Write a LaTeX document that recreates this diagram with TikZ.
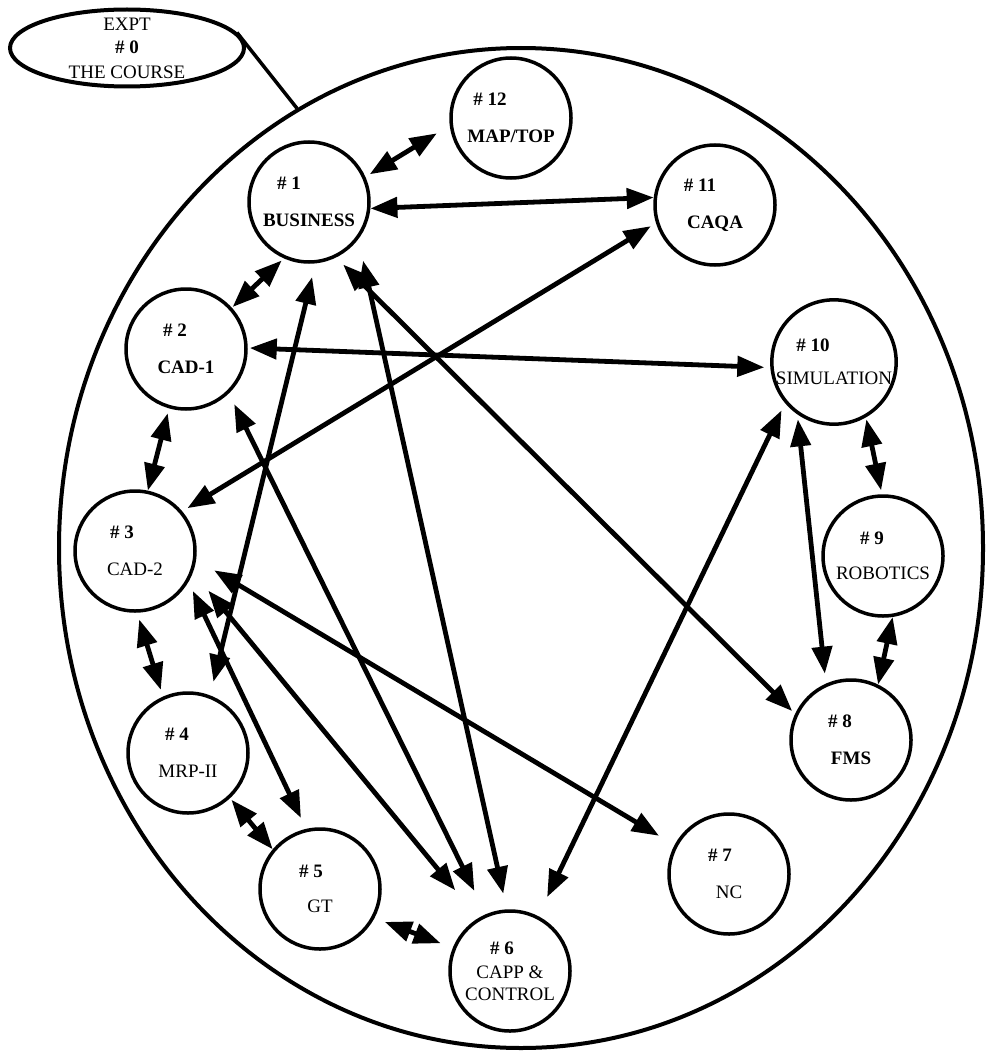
\documentclass[tikz,border=0pt]{standalone}
\usepackage{fontspec}
\setmainfont{Liberation Serif}
\usetikzlibrary{arrows.meta,shapes.geometric}

\begin{document}
\begin{tikzpicture}[
    x=1pt, y=-1pt,
    % Estilo de cada etapa del curso (círculos numerados)
    etapa/.style={circle, draw=black, line width=3.5pt, minimum size=120pt, inner sep=0pt, align=center, font=\fontsize{19}{22}\selectfont},
    % Contornos elípticos (curso completo y experimento cero)
    contorno/.style={ellipse, draw=black, line width=4pt, inner sep=0pt},
    texto/.style={align=center, font=\fontsize{19}{23}\selectfont},
    % Flechas dobles entre etapas
    flecha/.style={<->, >={Triangle[length=27pt, width=20pt]}, line width=4.8pt},
    enlace/.style={line width=3.5pt}
]
    \useasboundingbox (0,0) rectangle (985,1054);

    % --- CONTORNOS ---
    \node[contorno, minimum width=234pt, minimum height=77pt] (expt) at (127,48) {};
    \node[contorno, minimum width=924pt, minimum height=1000pt] (curso) at (521,548) {};
    \node[texto] (expttxt) at (expt.center) {EXPT\\\textbf{\# 0}\\[2pt]THE COURSE};
    \draw[enlace] (expt.8) -- (curso.117);

    % --- ETAPAS (posiciones sobre la página) ---
    \node[etapa] (map)  at (511,118) {\textbf{\# 12}\hspace*{42pt}\\[15pt]\textbf{MAP/TOP}};
    \node[etapa] (biz)  at (309,202) {\textbf{\# 1}\hspace*{40pt}\\[15pt]\textbf{BUSINESS}};
    \node[etapa] (caqa) at (715,205) {\textbf{\# 11}\hspace*{30pt}\\[15pt]\textbf{CAQA}};
    \node[etapa] (cad1) at (186,349) {\textbf{\# 2}\hspace*{22pt}\\[15pt]\textbf{CAD-1}};
    \node[etapa] (sim)  at (834,362) {\textbf{\# 10}\hspace*{42pt}\\[11pt]SIMULATION};
    \node[etapa] (cad2) at (135,551) {\textbf{\# 3}\hspace*{26pt}\\[15pt]CAD-2};
    \node[etapa] (rob)  at (883,556) {\textbf{\# 9}\hspace*{22pt}\\[13pt]ROBOTICS};
    \node[etapa] (mrp)  at (188,753) {\textbf{\# 4}\hspace*{22pt}\\[15pt]MRP-II};
    \node[etapa] (fms)  at (851,740) {\textbf{\# 8}\hspace*{22pt}\\[15pt]\textbf{FMS}};
    \node[etapa] (nc)   at (729,874) {\textbf{\# 7}\hspace*{18pt}\\[15pt]NC};
    \node[etapa] (gt)   at (320,889) {\textbf{\# 5}\hspace*{18pt}\\[13pt]GT};
    \node[etapa] (capp) at (510,971) {\textbf{\# 6}\hspace*{16pt}\\[2pt]CAPP \&\\CONTROL};

    % --- FLECHAS DESDE BUSINESS ---
    \draw[flecha, shorten <=5pt, shorten >=15pt] (biz.24) -- (map.187);
    \draw[flecha] (biz.-6) -- (caqa.173);
    \draw[flecha, shorten <=3pt, shorten >=1pt] (biz.246) -- (cad1.42);
    \draw[flecha, shorten <=14pt, shorten >=14pt] (biz.-84) -- (mrp.69);
    \draw[flecha, shorten <=22pt, shorten >=16pt] (biz.-37) -- (capp.93);
    \draw[flecha, shorten <=10pt, shorten >=4pt] (biz.-64) -- (fms.155);

    % --- FLECHAS DESDE CAD-1 Y CAD-2 ---
    \draw[flecha, shorten <=5pt] (cad1.-106) -- (cad2.78);
    \draw[flecha, shorten <=2pt, shorten >=6pt] (cad1.1) -- (sim.185);
    \draw[flecha, shorten <=12pt, shorten >=26pt] (cad1.-46) -- (capp.113);
    \draw[flecha, shorten <=7pt, shorten >=7pt] (cad2.-88) -- (mrp.114);
    \draw[flecha, shorten <=10pt, shorten >=12pt] (cad2.-30) -- (gt.103);
    \draw[flecha, shorten <=24pt, shorten >=36pt] (cad2.-20) -- (capp.121);
    \draw[flecha, shorten <=21pt, shorten >=18pt] (cad2.-8) -- (nc.152);
    \draw[flecha, shorten <=6pt, shorten >=6pt] (cad2.40) -- (caqa.197);

    % --- RESTO DE ENLACES ---
    \draw[flecha, shorten <=2pt] (mrp.-47) -- (gt.140);
    \draw[flecha, shorten <=11pt, shorten >=13pt] (gt.-28) -- (capp.158);
    \draw[flecha, shorten <=21pt, shorten >=8pt] (capp.63) -- (sim.220);
    \draw[flecha, shorten <=5pt, shorten >=10pt] (sim.235) -- (fms.114);
    \draw[flecha, shorten <=2pt, shorten >=4pt] (sim.-60) -- (rob.91);
    \draw[flecha] (rob.-81) -- (fms.64);

\end{tikzpicture}
\end{document}
